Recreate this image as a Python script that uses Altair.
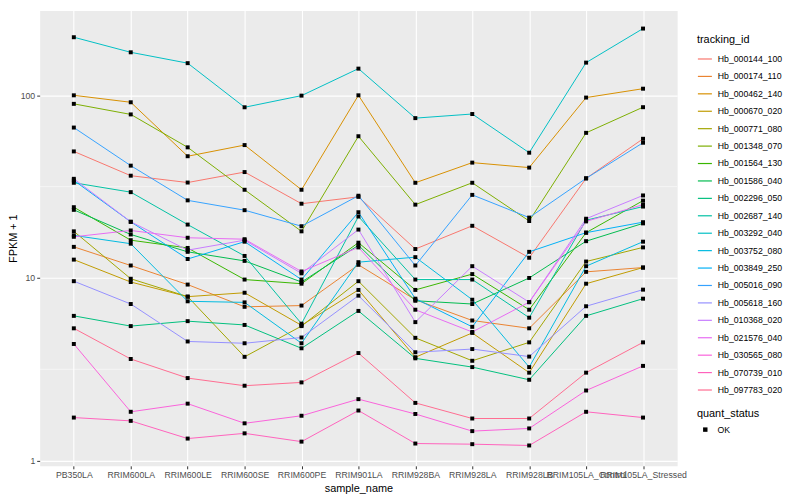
import altair as alt
import pandas as pd

samples = ["PB350LA", "RRIM600LA", "RRIM600LE", "RRIM600SE", "RRIM600PE", "RRIM901LA",
           "RRIM928BA", "RRIM928LA", "RRIM928LB", "RRIM105LA_Control", "RRIM105LA_Stressed"]

ids = ["Hb_000144_100", "Hb_000174_110", "Hb_000462_140", "Hb_000670_020", "Hb_000771_080",
       "Hb_001348_070", "Hb_001564_130", "Hb_001586_040", "Hb_002296_050", "Hb_002687_140",
       "Hb_003292_040", "Hb_003752_080", "Hb_003849_250", "Hb_005016_090", "Hb_005618_160",
       "Hb_010368_020", "Hb_021576_040", "Hb_030565_080", "Hb_070739_010", "Hb_097783_020"]

palette = ["#F8766D", "#EA8331", "#D89000", "#C09B00", "#A3A500", "#7CAE00", "#39B600", "#00BB4E",
           "#00BF7D", "#00C1A3", "#00BFC4", "#00BAE0", "#00B0F6", "#35A2FF", "#9590FF", "#C77CFF",
           "#E76BF3", "#FA62DB", "#FF62BC", "#FF6C91"]

Hb_000144_100 = [49.3, 36.3, 33.3, 38.0, 25.5, 27.8, 14.4, 19.3, 12.9, 35.1, 57.8]
Hb_000174_110 = [14.8, 11.7, 9.2, 6.95, 7.06, 11.8, 7.6, 5.85, 5.3, 10.8, 11.4]
Hb_000462_140 = [100, 91.6, 46.4, 53.4, 30.4, 100, 33.2, 42.8, 40.2, 97.2, 108.7]
Hb_000670_020 = [12.6, 9.5, 7.9, 8.3, 5.5, 8.6, 3.68, 5.0, 3.03, 9.3, 11.4]
Hb_000771_080 = [18.0, 9.9, 7.9, 3.7, 5.45, 9.6, 4.7, 3.52, 4.44, 12.3, 14.7]
Hb_001348_070 = [89.8, 78.6, 51.9, 30.4, 18.0, 59.7, 25.2, 33.2, 20.5, 62.3, 86.1]
Hb_001564_130 = [24.4, 16.1, 14.6, 9.8, 9.3, 15.6, 8.6, 10.5, 6.7, 17.7, 26.5]
Hb_001586_040 = [23.6, 17.3, 13.9, 12.4, 9.5, 15.1, 7.5, 7.2, 10.0, 15.9, 19.9]
Hb_002296_050 = [6.2, 5.45, 5.8, 5.53, 4.12, 6.6, 3.63, 3.25, 2.77, 6.2, 7.7]
Hb_002687_140 = [33.2, 29.5, 19.6, 13.2, 5.62, 21.7, 9.8, 9.8, 6.06, 20.7, 24.6]
Hb_003292_040 = [208, 172, 150, 86, 99.6, 140, 75, 79, 48.5, 151, 232]
Hb_003752_080 = [17.1, 15.4, 7.45, 7.35, 4.39, 12.2, 13.0, 7.6, 3.25, 11.6, 15.8]
Hb_003849_250 = [34.2, 20.3, 12.7, 15.8, 9.8, 22.9, 7.7, 5.4, 13.9, 17.7, 20.2]
Hb_005016_090 = [66.6, 41.2, 26.6, 23.5, 19.2, 28.2, 11.7, 28.5, 21.4, 35.1, 55.0]
Hb_005618_160 = [9.6, 7.2, 4.49, 4.39, 4.72, 8.0, 3.92, 4.08, 3.71, 7.0, 8.63]
Hb_010368_020 = [34.9, 20.3, 14.2, 16.1, 10.6, 18.4, 5.73, 11.6, 7.37, 21.1, 28.3]
Hb_021576_040 = [16.8, 18.2, 16.6, 16.3, 10.85, 14.7, 6.7, 5.06, 7.37, 20.4, 25.2]
Hb_030565_080 = [4.35, 1.85, 2.05, 1.60, 1.76, 2.17, 1.80, 1.45, 1.50, 2.42, 3.30]
Hb_070739_010 = [1.72, 1.65, 1.32, 1.41, 1.27, 1.88, 1.24, 1.23, 1.21, 1.85, 1.72]
Hb_097783_020 = [5.3, 3.6, 2.83, 2.57, 2.68, 3.88, 2.07, 1.70, 1.70, 3.03, 4.44]

series = [Hb_000144_100, Hb_000174_110, Hb_000462_140, Hb_000670_020, Hb_000771_080,
          Hb_001348_070, Hb_001564_130, Hb_001586_040, Hb_002296_050, Hb_002687_140,
          Hb_003292_040, Hb_003752_080, Hb_003849_250, Hb_005016_090, Hb_005618_160,
          Hb_010368_020, Hb_021576_040, Hb_030565_080, Hb_070739_010, Hb_097783_020]

minor_breaks = [10 ** 0.5, 10 ** 1.5]

rows = []
for tid, vals in zip(ids, series):
    for s, v in zip(samples, vals):
        rows.append({"tracking_id": tid, "sample_name": s, "fpkm": v, "quant_status": "OK"})
df = pd.DataFrame(rows)

FONT = "Liberation Sans"

x_scale = alt.Scale(type="point", padding=0.6)
y_scale = alt.Scale(type="log", domain=[0.936, 291.4], nice=False)


def x_enc():
    return alt.X("sample_name:N", sort=samples, title="sample_name", scale=x_scale,
                 axis=alt.Axis(labelAngle=0, labelOverlap=False, titlePadding=3))


def y_enc(field):
    return alt.Y(field, scale=y_scale, title="FPKM + 1",
                 axis=alt.Axis(values=[1, 10, 100], format="d", titleX=-26,
                               titleBaseline="middle", titleAngle=270))


minor = alt.Chart(pd.DataFrame({"b": minor_breaks})).mark_rule(
    color="white", strokeWidth=0.55).encode(y=y_enc("b:Q"))

lines = alt.Chart(df).mark_line(strokeWidth=1).encode(
    x=x_enc(), y=y_enc("fpkm:Q"),
    color=alt.Color("tracking_id:N", scale=alt.Scale(domain=ids, range=palette),
                    legend=alt.Legend(title="tracking_id", orient="none", legendX=664, legendY=24,
                                      symbolType="stroke", symbolSize=200, symbolStrokeWidth=1.2,
                                      rowPadding=4.6, labelOffset=5, titlePadding=6)),
    detail="tracking_id:N")

points = alt.Chart(df).mark_point(filled=True, shape="square", size=16, opacity=1).encode(
    x=x_enc(), y=y_enc("fpkm:Q"),
    color=alt.value("black"),
    shape=alt.Shape("quant_status:N", scale=alt.Scale(domain=["OK"], range=["square"]),
                    legend=alt.Legend(title="quant_status", orient="none", legendX=664, legendY=402,
                                      symbolFillColor="black", symbolStrokeColor="black",
                                      symbolSize=20, labelOffset=8, titlePadding=6, symbolOffset=4)))

chart = alt.layer(minor, lines, points).properties(
    width=644, height=460,
    autosize=alt.AutoSizeParams(type="none"),
    padding={"left": 32, "top": 0, "right": 116, "bottom": 32},
).configure(
    font=FONT
).configure_view(
    fill="#EBEBEB", strokeOpacity=0
).configure_axis(
    labelFontSize=8.8, labelColor="#4D4D4D", tickColor="#333333", tickSize=3,
    domain=False, grid=True, gridColor="white", gridWidth=1.1, labelPadding=2,
    titleFontSize=11, titleFontWeight="normal", titleColor="black",
    labelFont=FONT, titleFont=FONT
).configure_legend(
    labelFontSize=8.8, titleFontSize=11, titleFontWeight="normal",
    labelFont=FONT, titleFont=FONT, labelColor="black", titleColor="black"
)

chart.save("out.html", embed_options={"renderer": "svg", "actions": False})
